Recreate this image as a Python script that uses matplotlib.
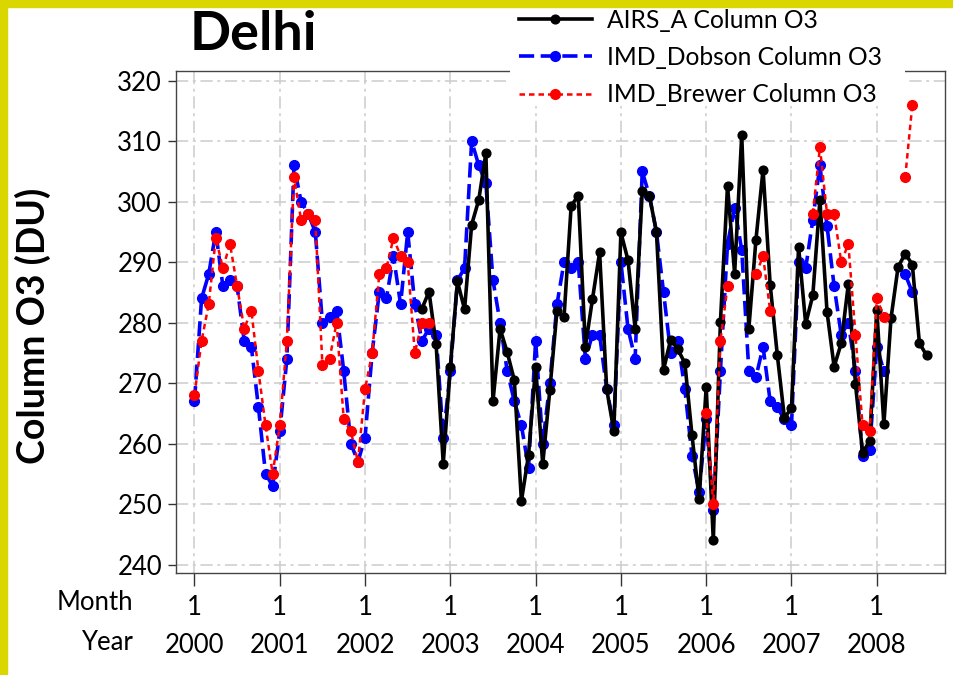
import numpy as np
import matplotlib
matplotlib.use("Agg")
import matplotlib.pyplot as plt
from matplotlib.patches import Rectangle

plt.rcParams['font.family'] = ['Lato', 'DejaVu Sans']

nan = np.nan

# Monthly total column ozone (DU) over Delhi, Jan 2000 .. Aug 2008
years = [2000, 2001, 2002, 2003, 2004, 2005, 2006, 2007, 2008]
n_months = 104

airs = [nan] * 32 + [
    282.3, 285.1, 276.4, 256.7,
    272.7, 286.8, 282.2, 296.2, 300.3, 308.0, 267.0, 279.0, 275.1, 270.5, 250.5, 258.1,
    272.7, 256.6, 268.9, 281.9, 281.0, 299.3, 301.0, 276.0, 283.9, 291.6, 269.0, 262.1,
    294.9, 290.3, 279.0, 301.7, 301.0, 295.0, 272.2, 277.2, 275.6, 273.3, 261.4, 250.8,
    269.3, 244.0, 280.1, 302.6, 288.1, 311.0, 279.0, 293.7, 305.3, 286.3, 274.7, 264.3,
    265.8, 292.5, 279.8, 284.5, 300.3, 281.8, 272.7, 276.6, 286.4, 269.9, 258.5, 260.4,
    282.1, 263.2, 280.7, 289.2, 291.4, 289.6, 276.6, 274.6,
]

dobson = [
    267, 284, 288, 295, 286, 287, 286, 277, 276, 266, 255, 253,
    262, 274, 306, 300, 298, 295, 280, 281, 282, 272, 260, 257,
    261, 275, 285, 284, 291, 283, 295, 283, 277, 279, 278, 261,
    272, 287, 289, 310, 306, 303, 287, 280, 272, 267, 263, 256,
    277, 260, 270, 283, 290, 289, 290, 274, 278, 278, 269, 263,
    290, 279, 274, 305, 301, 295, 285, 275, 277, 269, 258, 252,
    264, 249, 272, 293, 299, 292, 272, 271, 276, 267, 266, 264,
    263, 290, 289, 297, 306, 296, 286, 278, 280, 272, 258, 259,
    276, 272, nan, nan, 288, 285, nan, nan,
]

brewer = [
    268, 277, 283, 294, 289, 293, 286, 279, 282, 272, 263, 255,
    263, 277, 304, 297, 298, 297, 273, 274, 280, 264, 262, 257,
    269, 275, 288, 289, 294, 291, 290, 275, 280, 280, nan, nan,
] + [nan] * 36 + [
    265, 250, 277, 286, nan, nan, nan, 288, 291, 282, nan, nan,
    nan, nan, nan, 298, 309, 298, 298, 290, 293, 278, 263, 262,
    284, 281, nan, nan, 304, 316, nan, nan,
]

labels = ["AIRS_A Column O3", "IMD_Dobson Column O3", "IMD_Brewer Column O3"]

months = np.arange(n_months)

fig = plt.figure(figsize=(9.54, 6.75), dpi=100)
ax = fig.add_axes([176 / 954, 1 - 573 / 675, (945 - 176) / 954, (573 - 71) / 675])

l_blue, = ax.plot(months, dobson, color='#0000ff', lw=2.6, ls=(0, (4.2, 1.8)),
                  marker='o', ms=7.0, zorder=3, label=labels[1])
l_black, = ax.plot(months, airs, color='black', lw=2.6, ls='-',
                   marker='o', ms=6.3, zorder=4, label=labels[0])
l_red, = ax.plot(months, brewer, color='#ff0000', lw=1.8, ls=(0, (2.2, 1.6)),
                 marker='o', ms=7.0, zorder=5, label=labels[2])

ax.set_xlim(-2.6, 105.6)
ax.set_ylim(238.6, 321.6)

ax.set_yticks(np.arange(240, 321, 10))
jan = [12 * i for i in range(len(years))]
ax.set_xticks(jan)
ax.set_xticklabels([f"1\n{y}" for y in years], linespacing=1.66)

ax.tick_params(axis='y', length=6, width=1, labelsize=18.5, pad=4, color='#333333')
ax.tick_params(axis='x', length=9, width=1, labelsize=18.5, pad=7, color='#333333')

grid_style = dict(color='#cccccc', lw=1.1, ls=(0, (8, 3, 2, 3)))
ax.grid(True, **grid_style)
ax.set_axisbelow(True)

for s in ax.spines.values():
    s.set_color('#444444')
    s.set_linewidth(1.0)

fig.text(133 / 954, 1 - 603 / 675, "Month", ha='right', va='center', fontsize=18.5)
fig.text(133 / 954, 1 - 643 / 675, "Year", ha='right', va='center', fontsize=18.5)

fig.text(190 / 954, 1 - 34 / 675, "Delhi", ha='left', va='center',
         fontsize=39, fontweight='bold')
fig.text(33 / 954, 1 - 326 / 675, "Column O3 (DU)", rotation=90, ha='center',
         va='center', fontsize=27, fontweight='bold')

# white backing box for the legend, covering the top of the plot frame
fig.patches.append(Rectangle((510 / 954, 1 - 106 / 675), (905 - 510) / 954, 106 / 675,
                             transform=fig.transFigure, facecolor='white',
                             edgecolor='none', zorder=1))

leg = fig.legend(handles=[l_black, l_blue, l_red], labels=labels,
                 loc='upper left', bbox_to_anchor=(510 / 954, 1.0),
                 fontsize=17.7, frameon=False, borderpad=0.35,
                 labelspacing=0.58, handlelength=3.0, handletextpad=0.6,
                 borderaxespad=0)
leg.set_zorder(2)

# yellow frame strips along the top and left edges
fig.patches.append(Rectangle((0, 1 - 7 / 675), 1, 7 / 675, transform=fig.transFigure,
                             color='#d9d600', zorder=20))
fig.patches.append(Rectangle((0, 0), 7 / 954, 1, transform=fig.transFigure,
                             color='#d9d600', zorder=20))

fig.savefig("out.png", dpi=100)
